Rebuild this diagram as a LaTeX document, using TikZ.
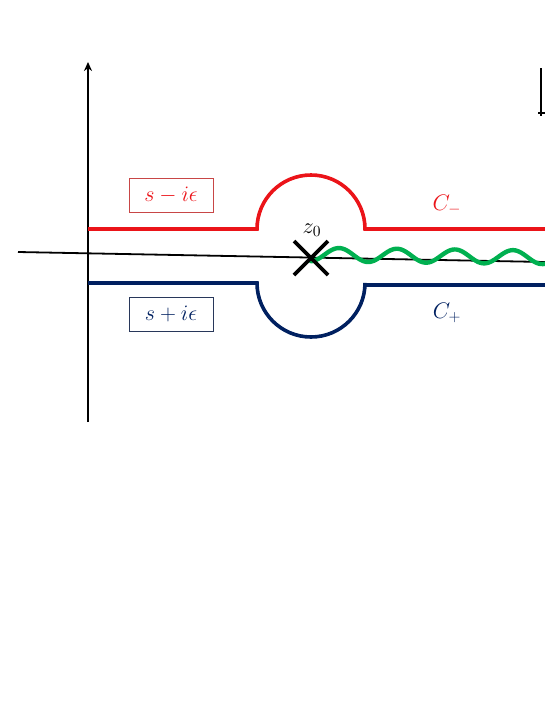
\documentclass[tikz,border=0pt]{standalone}
\usepackage{graphicx}
\usetikzlibrary{arrows.meta,calc}
\definecolor{cred}{RGB}{235,20,25}
\definecolor{cnavy}{RGB}{0,32,96}
\definecolor{cgreen}{RGB}{0,176,80}
\definecolor{bred}{RGB}{200,70,70}
\definecolor{bnavy}{RGB}{40,55,90}
\newcommand{\mysc}[2]{\scalebox{#1}{$#2$}}
\begin{document}
\begin{tikzpicture}[x=1pt,y=-1pt,
  axis/.style={line width=2pt,black},
  contour/.style={line width=3.6pt},
  lbox/.style={draw,line width=0.8pt,minimum width=84pt,minimum height=34pt,inner sep=0pt,font=\LARGE},
  clabel/.style={font=\LARGE,inner sep=0pt}]
\useasboundingbox (0,0) rectangle (545,705);
% axes
\coordinate (xl) at (18,252);
\coordinate (xr) at (545,262);
\coordinate (yb) at (88,422);
\coordinate (yt) at (88,62);
\draw[axis,line width=1.8pt] (xl) -- (xr);
\draw[axis,-{Stealth[length=9pt,width=8pt]}] (yb) -- (yt);
% top right mark
\coordinate (m1) at (541,68);
\coordinate (m2) at (541,116);
\coordinate (m3) at (538,113);
\coordinate (m4) at (545,113);
\draw[line width=1.6pt] (m1) -- (m2);
\draw[line width=1.6pt] (m3) -- (m4);
% red contour
\coordinate (ra) at (88,229);
\coordinate (rb) at (257,229);
\coordinate (rd) at (545,229);
\draw[contour,cred] (ra) -- (rb) arc[start angle=180,end angle=0,x radius=54,y radius=-54] -- (rd);
% navy contour
\coordinate (ba) at (88,283);
\coordinate (bb) at (257,283);
\coordinate (bd) at (545,285);
\draw[contour,cnavy] (ba) -- (bb) arc[start angle=180,end angle=360,x radius=54,y radius=-54] -- (365,285) -- (bd);
% green wave
\draw[cgreen,line width=4.4pt,line cap=round] plot[domain=311:545,samples=120,smooth] (\x,{254.5+0.012*(\x-310)+6.8*cos(6.2069*(\x-310))});
% cross
\coordinate (z) at (311,258);
\draw[line width=3.6pt] ($(z)+(-17,-17)$) -- ($(z)+(17,17)$);
\draw[line width=3.6pt] ($(z)+(-17,17)$) -- ($(z)+(17,-17)$);
\node[font=\Large,inner sep=0pt] (zl) at (312,230) {\mysc{1.55}{z_0}};
% boxes
\node[lbox,draw=bred,text=cred] (bm) at (171,195) {\mysc{1.28}{s-i\epsilon}};
\node[lbox,draw=bnavy,text=cnavy] (bp) at (171,314) {\mysc{1.28}{s+i\epsilon}};
% labels
\node[clabel,text=cred] (cm) at (447,205) {\mysc{1.3}{C_-}};
\node[clabel,text=cnavy] (cp) at (447,313) {\mysc{1.3}{C_+}};
\end{tikzpicture}
\end{document}
